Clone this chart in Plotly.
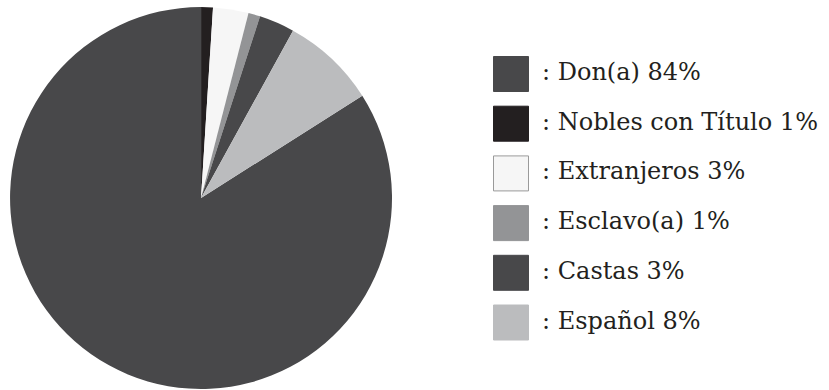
import plotly.graph_objects as go

categories = ["Don(a)", "Nobles con Título", "Extranjeros", "Esclavo(a)", "Castas", "Español"]
values = [84, 1, 3, 1, 3, 8]
colors = ["#48484a", "#231f20", "#f6f6f6", "#939496", "#48484a", "#bbbcbe"]
border_colors = ["#48484a", "#231f20", "#9a9a9a", "#939496", "#48484a", "#bbbcbe"]

total = sum(values)
labels_text = [f": {c} {round(v / total * 100)}%" for c, v in zip(categories, values)]
# Start so that the first slice (Don) ends at 12 o'clock, clockwise
rotation = 360 * (1 - values[0] / total)

fig = go.Figure()
fig.add_trace(go.Pie(
    labels=categories, values=values, sort=False, direction="clockwise",
    rotation=rotation, marker=dict(colors=colors, line=dict(width=0)),
    textinfo="none", hoverinfo="skip", showlegend=False,
    domain=dict(x=[0.0121, 0.4729], y=[0.0026, 0.982]),
))

idx = list(range(len(categories)))
fig.add_trace(go.Scatter(
    x=[0] * len(idx), y=idx, mode="markers",
    marker=dict(symbol="square", size=35, color=colors,
                line=dict(color=border_colors, width=1)),
    hoverinfo="skip", showlegend=False,
))
fig.add_trace(go.Scatter(
    x=[31] * len(idx), y=idx, mode="text", text=labels_text,
    textposition="middle right",
    textfont=dict(family="DejaVu Serif", size=24, color="#231f20"),
    hoverinfo="skip", showlegend=False,
))

fig.update_layout(
    width=829, height=390, autosize=False,
    margin=dict(l=0, r=0, t=0, b=0),
    paper_bgcolor="white", plot_bgcolor="rgba(0,0,0,0)",
    xaxis=dict(range=[-511, 318], visible=False, fixedrange=True),
    yaxis=dict(range=[6.358, -1.489], visible=False, fixedrange=True),
)

fig.write_html("out.html", config={"displayModeBar": False},
               post_script="document.body.style.margin='0';document.body.style.overflow='hidden';")
